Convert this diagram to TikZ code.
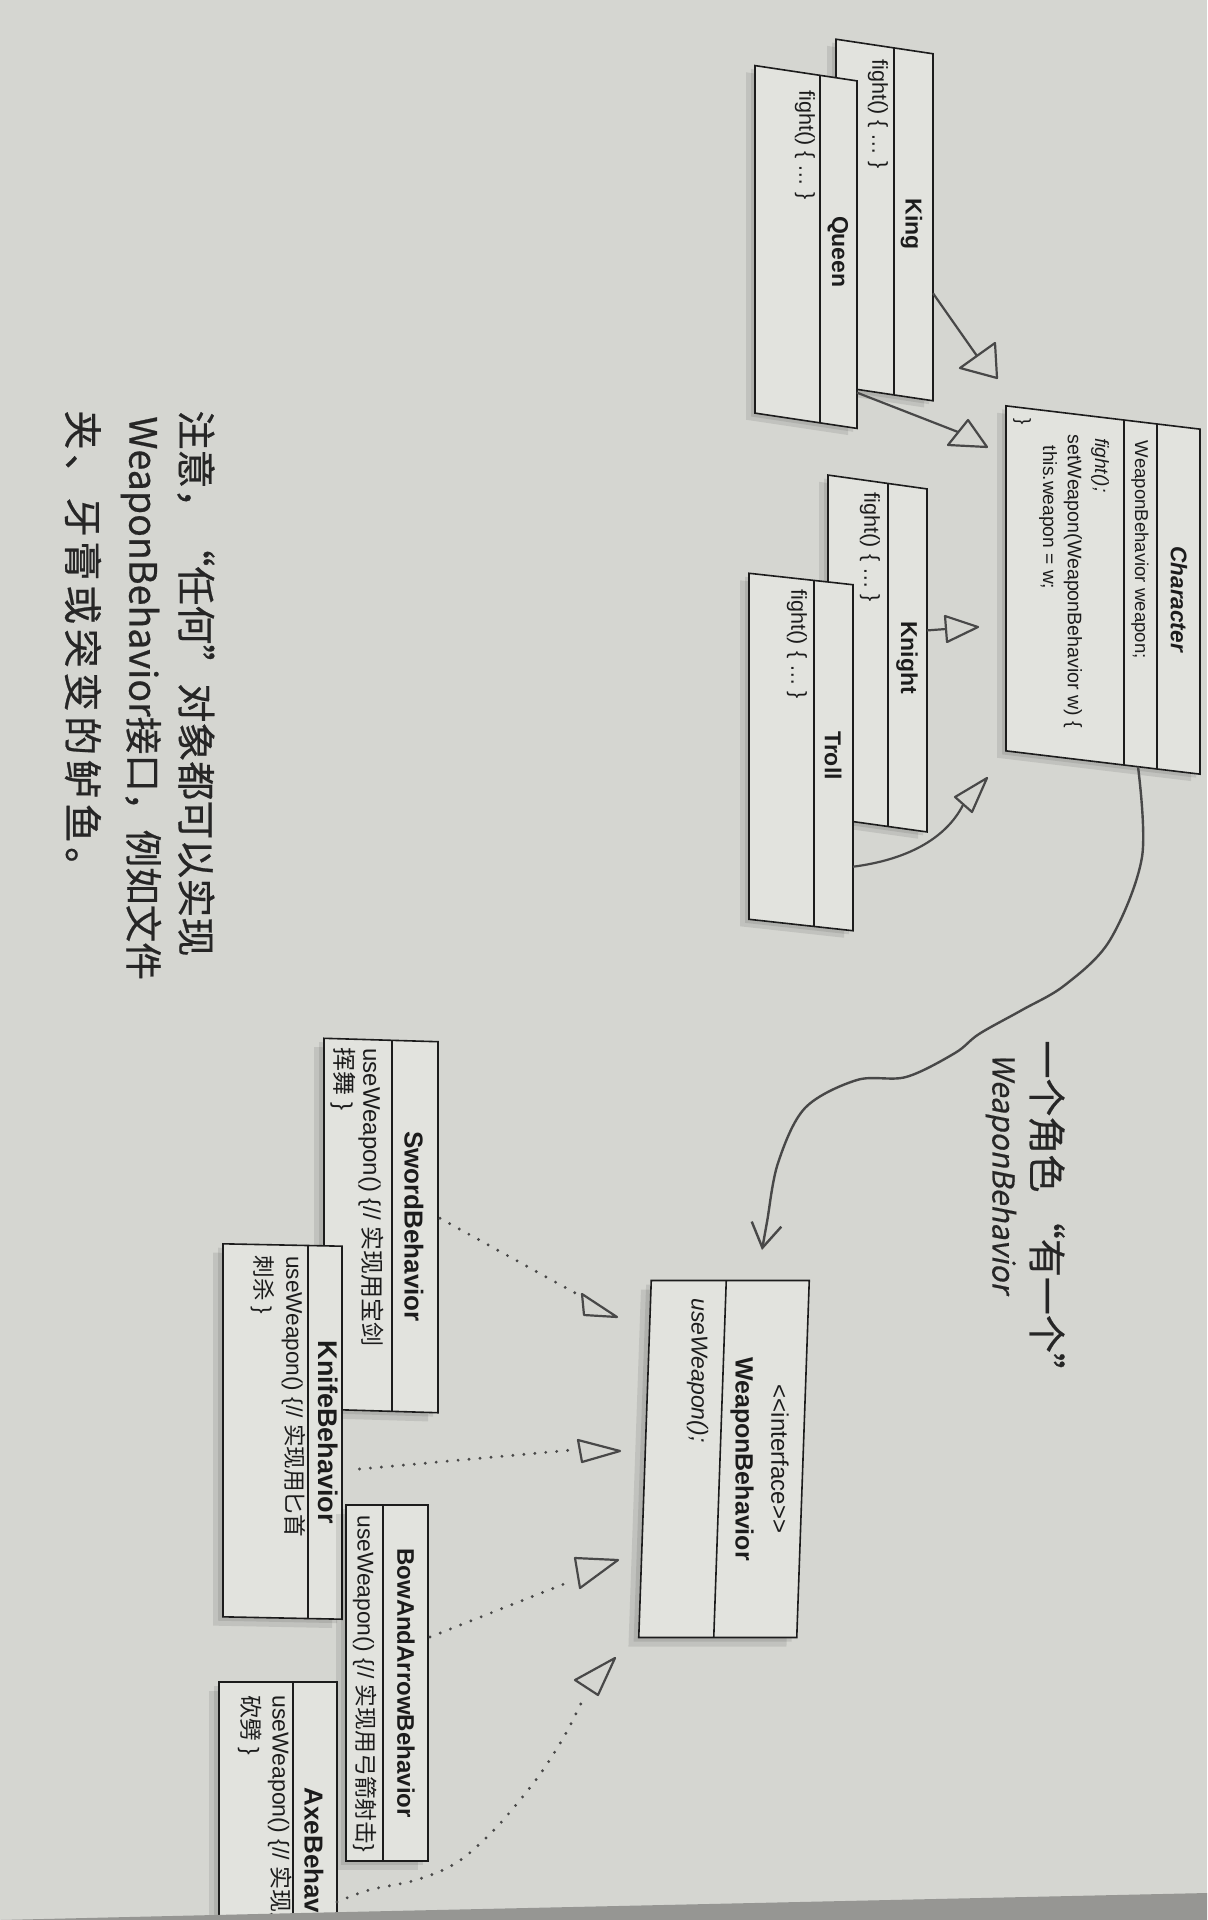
\documentclass[tikz,border=0pt]{standalone}
\usepackage{fontspec}
\setmainfont{Liberation Sans}
\newfontfamily\cjk{Noto Sans CJK SC}
\newfontfamily\hand{Noto Sans CJK SC}[FakeBold=0.6]
\newfontfamily\handsp{Noto Sans CJK SC}[FakeBold=0.6, LetterSpace=12]
\newfontfamily\handsl{Noto Sans CJK SC}[FakeSlant=0.2, FakeBold=0.4]
\usetikzlibrary{arrows.meta}
\definecolor{paper}{RGB}{213,214,209}
\definecolor{boxfill}{RGB}{226,227,222}
\definecolor{ink}{RGB}{28,28,28}
\definecolor{pen}{RGB}{72,72,72}
\definecolor{handink}{RGB}{38,38,38}
\definecolor{edgeband}{RGB}{150,150,147}
\tikzset{
  boxshape/.style={draw=ink, line width=0.8pt, fill=boxfill, rotate=-90, inner sep=0pt, outer sep=0pt, transform shape},
  boxshadow/.style={fill=black, fill opacity=0.09, draw=none, rotate=-90, inner sep=0pt, transform shape},
  divline/.style={draw=ink, line width=0.8pt},
  vtxt/.style={rotate=-90, inner sep=0pt, text=ink},
  nm/.style={vtxt, font=\bfseries\fontsize{11.5}{13}\selectfont},
  mt/.style={vtxt, anchor=west, font=\fontsize{10.8}{13}\selectfont},
  inhline/.style={draw=pen, line width=1.1pt},
  tri/.style={draw=pen, line width=1.1pt, line join=round},
  real/.style={draw=pen, line width=1.6pt, line cap=round, dash pattern=on 0pt off 5.5pt},
  hasa/.style={draw=pen, line width=1.2pt, -{Straight Barb[length=12pt, width=15pt, line width=1.2pt]}},
  note/.style={rotate=-90, anchor=west, inner sep=0pt, text=handink, font=\hand\fontsize{19.5}{22}\selectfont},
}
\begin{document}
\begin{tikzpicture}[x=0.5pt,y=-0.5pt]
\useasboundingbox (0,0) rectangle (1207,1920);
\clip (0,0) rectangle (1207,1920);
\fill[paper] (0,0) rectangle (1207,1920);

% ---------- King ----------
\begin{scope}[shift={(884.5,220)}, yslant=-0.15]
  \node[boxshadow, minimum width=173.5pt, minimum height=48.5pt] at (-9,8) {};
  \node[boxshadow, minimum width=173.5pt, minimum height=48.5pt] at (-4,4) {};
  \node[boxshape, minimum width=173.5pt, minimum height=48.5pt] (king) at (0,0) {};
  \draw[divline] (9.5,-173.5) -- (9.5,173.5);
  \node[nm] (kingname) at (27,0) {King};
  \node[mt] (kingm) at (-6.5,-160) {fight() \{ … \}};
  \coordinate (kingR) at (48.5,66);
\end{scope}

% ---------- Queen ----------
\begin{scope}[shift={(806,247)}, yslant=-0.15]
  \node[boxshadow, minimum width=173.75pt, minimum height=51pt] at (-9,8) {};
  \node[boxshadow, minimum width=173.75pt, minimum height=51pt] at (-4,4) {};
  \node[boxshape, minimum width=173.75pt, minimum height=51pt] (queen) at (0,0) {};
  \draw[divline] (14,-173.75) -- (14,173.75);
  \node[nm] (queenname) at (32,0) {Queen};
  \node[mt] (queenm) at (-1,-157) {fight() \{ … \}};
  \coordinate (queenR) at (51,138);
\end{scope}

% ---------- Knight ----------
\begin{scope}[shift={(877.5,653.5)}, yslant=-0.14]
  \node[boxshadow, minimum width=171.5pt, minimum height=49.5pt] at (-9,8) {};
  \node[boxshadow, minimum width=171.5pt, minimum height=49.5pt] at (-4,4) {};
  \node[boxshape, minimum width=171.5pt, minimum height=49.5pt] (knight) at (0,0) {};
  \draw[divline] (10.5,-171.5) -- (10.5,171.5);
  \node[nm] (knightname) at (29.5,0) {Knight};
  \node[mt] (knightm) at (-7.5,-160) {fight() \{ … \}};
  \coordinate (knightR) at (49.5,-30);
\end{scope}

% ---------- Troll ----------
\begin{scope}[shift={(801,752)}, yslant=-0.11]
  \node[boxshadow, minimum width=173pt, minimum height=52pt] at (-9,8) {};
  \node[boxshadow, minimum width=173pt, minimum height=52pt] at (-4,4) {};
  \node[boxshape, minimum width=173pt, minimum height=52pt] (troll) at (0,0) {};
  \draw[divline] (13,-173) -- (13,173);
  \node[nm] (trollname) at (32,0) {Troll};
  \node[mt] (trollm) at (-4,-162) {fight() \{ … \}};
  \coordinate (trollR) at (52,109);
\end{scope}

% ---------- Character ----------
\begin{scope}[shift={(1103,590)}, yslant=-0.12]
  \node[boxshadow, minimum width=172.5pt, minimum height=97pt] at (-9,8) {};
  \node[boxshadow, minimum width=172.5pt, minimum height=97pt] at (-4,4) {};
  \node[boxshape, minimum width=172.5pt, minimum height=97pt] (character) at (0,0) {};
  \draw[divline] (54,-172.5) -- (54,172.5);
  \draw[divline] (21,-172.5) -- (21,172.5);
  \node[vtxt, font=\bfseries\itshape\fontsize{11.3}{13}\selectfont] (charname) at (76,0) {Character};
  \node[mt, font=\fontsize{9.3}{11}\selectfont] (charattr) at (37,-154) {WeaponBehavior weapon;};
  \node[mt, font=\itshape\fontsize{9.6}{11}\selectfont] (charm1) at (-3,-152) {fight();};
  \node[mt, font=\fontsize{9.8}{11}\selectfont] (charm2) at (-30,-152) {setWeapon(WeaponBehavior w) \{};
  \node[mt, font=\fontsize{9.6}{11}\selectfont] (charm3) at (-55,-138) {this.weapon = w;};
  \node[mt, font=\fontsize{9.6}{11}\selectfont] (charm4) at (-81,-162) {\}};
  \coordinate (charB) at (35,172.5);
\end{scope}

% ---------- WeaponBehavior interface ----------
\begin{scope}[shift={(724,1459)}, xslant=0.035]
  \node[boxshadow, minimum width=178.5pt, minimum height=79pt] at (-10,9) {};
  \node[boxshadow, minimum width=178.5pt, minimum height=79pt] at (-5,4) {};
  \node[boxshape, minimum width=178.5pt, minimum height=79pt] (wb) at (0,0) {};
  \draw[divline] (-4,-178.5) -- (-4,178.5);
  \node[vtxt, font=\fontsize{12}{14}\selectfont] (wbstereo) at (56,0) {{<}{<}interface{>}{>}};
  \node[vtxt, font=\bfseries\fontsize{12.5}{14}\selectfont] (wbname) at (18,0) {WeaponBehavior};
  \node[mt, font=\itshape\fontsize{11.5}{14}\selectfont] (wbm) at (-32,-161) {useWeapon();};
\end{scope}

% ---------- SwordBehavior ----------
\begin{scope}[shift={(381,1225.5)}, yslant=-0.03]
  \node[boxshadow, minimum width=185.5pt, minimum height=57pt] at (-10,9) {};
  \node[boxshadow, minimum width=185.5pt, minimum height=57pt] at (-5,4) {};
  \node[boxshape, minimum width=185.5pt, minimum height=57pt] (sword) at (0,0) {};
  \draw[divline] (11,-185.5) -- (11,185.5);
  \node[vtxt, font=\bfseries\fontsize{13}{15}\selectfont] (swordname) at (33,0) {SwordBehavior};
  \node[mt, font=\fontsize{12}{14}\selectfont] (swordm1) at (-10,-177) {useWeapon() \{// {\cjk 实现用宝剑}};
  \node[mt, font=\fontsize{12}{14}\selectfont] (swordm2) at (-38,-177) {{\cjk 挥舞} \}};
  \coordinate (swordR) at (59,-9);
\end{scope}

% ---------- KnifeBehavior ----------
\begin{scope}[shift={(282.5,1431.5)}, yslant=-0.02]
  \node[boxshadow, minimum width=186.5pt, minimum height=59.5pt] at (-10,9) {};
  \node[boxshadow, minimum width=186.5pt, minimum height=59.5pt] at (-5,4) {};
  \node[boxshape, minimum width=186.5pt, minimum height=59.5pt] (knife) at (0,0) {};
  \draw[divline] (25.5,-186.5) -- (25.5,186.5);
  \node[vtxt, font=\bfseries\fontsize{13.5}{15}\selectfont] (knifename) at (46,0) {KnifeBehavior};
  \node[mt, font=\fontsize{11.3}{14}\selectfont] (knifem1) at (11,-176) {useWeapon() \{// {\cjk 实现用匕首}};
  \node[mt, font=\fontsize{11.3}{14}\selectfont] (knifem2) at (-20,-176) {{\cjk 刺杀} \}};
  \coordinate (knifeR) at (77,36);
\end{scope}

% ---------- BowAndArrowBehavior ----------
\begin{scope}[shift={(387,1683)}]
  \node[boxshadow, minimum width=178pt, minimum height=41pt] at (-10,9) {};
  \node[boxshadow, minimum width=178pt, minimum height=41pt] at (-5,4) {};
  \node[boxshape, minimum width=178pt, minimum height=41pt] (bow) at (0,0) {};
  \draw[divline] (-4,-178) -- (-4,178);
  \node[vtxt, font=\bfseries\fontsize{12}{14}\selectfont] (bowname) at (19,0) {BowAndArrowBehavior};
  \node[mt, font=\fontsize{11.4}{14}\selectfont] (bowm1) at (-22,-168) {useWeapon() \{// {\cjk 实现用弓箭射击}\}};
  \coordinate (bowR) at (43,-46);
\end{scope}

% ---------- AxeBehavior ----------
\begin{scope}[shift={(278,1867)}]
  \node[boxshadow, minimum width=185pt, minimum height=59pt] at (-10,9) {};
  \node[boxshadow, minimum width=185pt, minimum height=59pt] at (-5,4) {};
  \node[boxshape, minimum width=185pt, minimum height=59pt] (axe) at (0,0) {};
  \draw[divline] (15,-185) -- (15,185);
  \node[vtxt, font=\bfseries\fontsize{13}{15}\selectfont] (axename) at (36,0) {AxeBehavior};
  \node[mt, font=\fontsize{11.5}{14}\selectfont] (axem1) at (2,-172) {useWeapon() \{// {\cjk 实现用斧头}};
  \node[mt, font=\fontsize{11.5}{14}\selectfont] (axem2) at (-28,-172) {{\cjk 砍劈} \}};
  \coordinate (axeR) at (59,35);
\end{scope}

% ---------- hand-drawn triangles at the interface ----------
\draw[tri] (582,1294) -- (617,1317) -- (584,1315) -- cycle;
\draw[tri] (578,1440) -- (620,1451) -- (582,1462) -- cycle;
\draw[tri] (575,1558) -- (618,1560) -- (580,1588) -- cycle;
\draw[tri] (615,1658) -- (575,1680) -- (598,1695) -- cycle;
\coordinate (t1) at (577,1294);
\coordinate (t2) at (572,1450);
\coordinate (t3) at (569,1582);
\coordinate (t4) at (584,1697);

\draw[real] (swordR) -- (t1);
\draw[real] (knifeR) -- (t2);
\draw[real] (bowR) -- (t3);
\draw[real] plot[smooth, tension=0.6] coordinates {(axeR) (369,1890) (416,1880) (456,1863) (491,1833) (520,1800) (543,1770) (566,1733) (t4)};

% ---------- inheritance arrows ----------
\draw[tri] (960,368) -- (995,343) -- (997,378) -- cycle;
\draw[tri] (948,445) -- (968,420) -- (987,447) -- cycle;
\draw[tri] (945,616) -- (978,627) -- (947,642) -- cycle;
\draw[tri] (955,797) -- (987,778) -- (972,812) -- cycle;
\coordinate (kingTri) at (977,356);
\coordinate (queenTri) at (958,432);
\coordinate (knightTri) at (946,629);
\coordinate (trollTri) at (963,805);
\draw[inhline] (kingR) -- (kingTri);
\draw[inhline] (queenR) -- (queenTri);
\draw[inhline] (knightR) -- (knightTri);
\draw[inhline] (trollR) .. controls (905,860) and (945,840) .. (trollTri);

% ---------- has-a arrow ----------
\coordinate (hasaTip) at (762,1250);
\draw[hasa] plot[smooth, tension=0.55] coordinates {(charB) (1142,857) (1110,940) (1065,985) (1022,1010) (979,1034) (955,1053) (906,1077) (857,1080) (805,1108) (778,1163) (767,1222) (hasaTip)};

% ---------- handwritten labels ----------
\node[rotate=-90, anchor=west, inner sep=0pt, text=handink, font=\hand\fontsize{19}{22}\selectfont] (hasalabel) at (1047,1040) {一个角色 “有一个”};
\node[rotate=-90, anchor=west, inner sep=0pt, text=handink, font=\handsl\fontsize{15}{18}\selectfont] (hasalabel2) at (1001,1053) {WeaponBehavior};

\node[note] (note1) at (196,410) {注意，“任何”对象都可以实现};
\node[note, font=\hand\fontsize{18.8}{22}\selectfont] (note2) at (141,416) {WeaponBehavior接口，例如文件};
\node[note, font=\handsp\fontsize{19.5}{22}\selectfont] (note3) at (83,410) {夹、牙膏或突变的鲈鱼。};

% ---------- page edge at the bottom ----------
\fill[edgeband] (0,1920) -- (300,1913) -- (1207,1893) -- (1207,1920) -- cycle;
\end{tikzpicture}
\end{document}
